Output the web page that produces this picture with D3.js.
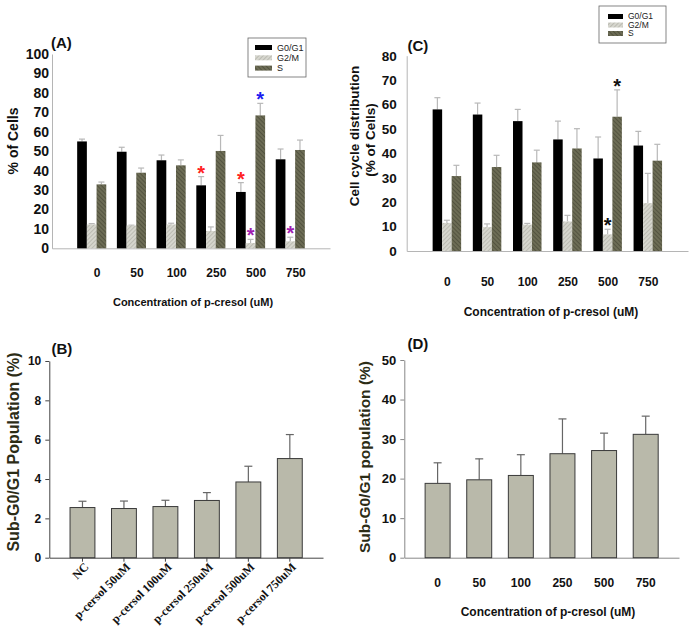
<!DOCTYPE html>
<html>
<head>
<meta charset="utf-8">
<script src="https://cdn.jsdelivr.net/npm/d3@7"></script>
<style>
  body { margin: 0; background: #fff; }
  svg { display: block; }
</style>
</head>
<body>
<svg id="chart" width="692" height="627"></svg>
<script>
// categories
var concLabels = ['0', '50', '100', '250', '500', '750'];
var subLabels = ['NC', 'p-cersol 50uM', 'p-cersol 100uM', 'p-cersol 250uM', 'p-cersol 500uM', 'p-cersol 750uM'];
var phaseNames = ['G0/G1', 'G2/M', 'S'];

// panel A: % of cells
var aG0G1 = [55.0, 49.7, 45.3, 32.4, 29.0, 45.8];
var aG0G1Err = [1.2, 2.3, 2.7, 4.5, 4.8, 5.3];
var aG2M = [12.3, 11.7, 12.3, 8.9, 2.7, 3.6];
var aG2MErr = [0.4, 0.2, 0.6, 2.1, 1.9, 2.1];
var aS = [32.9, 38.9, 42.7, 50.1, 68.4, 50.6];
var aSErr = [1.2, 2.4, 2.8, 8.0, 6.2, 5.1];

// panel C: cell cycle distribution
var cG0G1 = [58.0, 55.9, 53.2, 45.7, 37.9, 43.2];
var cG0G1Err = [4.8, 4.7, 4.8, 7.5, 8.8, 5.8];
var cG2M = [11.5, 9.8, 10.8, 12.1, 6.8, 19.6];
var cG2MErr = [1.1, 1.3, 0.5, 2.5, 2.1, 12.2];
var cS = [30.7, 34.4, 36.3, 42.0, 55.0, 37.0];
var cSErr = [4.4, 4.8, 5.0, 8.1, 11.0, 6.7];

// panel B / D: sub-G0/G1
var bSub = [2.55, 2.50, 2.60, 2.91, 3.85, 5.04];
var bSubErr = [0.32, 0.38, 0.32, 0.40, 0.80, 1.22];
var dSub = [18.8, 19.7, 20.8, 26.3, 27.1, 31.2];
var dSubErr = [5.2, 5.3, 5.25, 8.8, 4.4, 4.6];

// significance marks: [group index, phase index, colour]
var aStars = [[3, 0, '#ff2222'], [4, 0, '#ff2222'], [4, 2, '#1c1cf0'], [4, 1, '#a01cb0'], [5, 1, '#a01cb0']];
var cStars = [[4, 2, '#111'], [4, 1, '#111']];

var sans = '"Liberation Sans", Arial, sans-serif';
var serif = '"Liberation Serif", "Times New Roman", serif';

var svg = d3.select('#chart');
var defs = svg.append('defs');

function hatch(id, bg, fg, angle, sw) {
  var p = defs.append('pattern')
    .attr('id', id)
    .attr('width', 3)
    .attr('height', 3)
    .attr('patternUnits', 'userSpaceOnUse')
    .attr('patternTransform', 'rotate(' + angle + ')');
  p.append('rect').attr('width', 3).attr('height', 3).attr('fill', bg);
  p.append('line').attr('x1', 0).attr('y1', 0).attr('x2', 0).attr('y2', 3)
    .attr('stroke', fg).attr('stroke-width', sw);
}
hatch('hG2M', '#d6d6ce', '#a9a9a0', 45, 1.2);
hatch('hS', '#6c6c55', '#424232', -45, 1.2);

var phaseFill = ['#000', 'url(#hG2M)', 'url(#hS)'];

function drawGrouped(opt) {
  var x = d3.scalePoint().domain(concLabels).range(opt.xRange).padding(1);
  var y = d3.scaleLinear().domain([0, opt.yMax]).range(opt.yRange);
  var bw = opt.barW;
  var g = svg.append('g');

  var yAxis = g.append('g')
    .attr('transform', 'translate(' + opt.xRange[0] + ',0)')
    .call(d3.axisLeft(y).tickValues(d3.range(0, opt.yMax + 1, 10)).tickSize(0).tickPadding(opt.yPad));
  yAxis.select('.domain').attr('stroke', '#b5b5b5');
  yAxis.selectAll('text')
    .attr('font-family', sans).attr('font-weight', 'bold')
    .attr('font-size', opt.yFont + 'px').attr('fill', '#111');

  var xAxis = g.append('g')
    .attr('transform', 'translate(0,' + opt.yRange[0] + ')')
    .call(d3.axisBottom(x).tickSize(0).tickPadding(opt.xPad));
  xAxis.select('.domain').attr('stroke', '#b5b5b5');
  xAxis.selectAll('text')
    .attr('dx', opt.xShift)
    .attr('font-family', sans).attr('font-weight', 'bold')
    .attr('font-size', '12px').attr('fill', '#111');

  opt.series.forEach(function (s, pi) {
    var vals = s[0], errs = s[1];
    concLabels.forEach(function (c, i) {
      var left = x(c) + (pi - 1.5) * bw;
      var top = y(vals[i]);
      var et = y(vals[i] + errs[i]);
      var cx = left + bw / 2;
      g.append('line')
        .attr('x1', cx).attr('x2', cx).attr('y1', top).attr('y2', et)
        .attr('stroke', '#b8b8b8').attr('stroke-width', 1.2);
      g.append('line')
        .attr('x1', cx - 3).attr('x2', cx + 3).attr('y1', et).attr('y2', et)
        .attr('stroke', '#b8b8b8').attr('stroke-width', 1.2);
      g.append('rect')
        .attr('x', left).attr('y', top)
        .attr('width', bw).attr('height', y(0) - top)
        .attr('fill', phaseFill[pi]);
    });
  });

  opt.stars.forEach(function (st) {
    var s = opt.series[st[1]];
    var i = st[0];
    var cx = x(concLabels[i]) + (st[1] - 1) * bw;
    g.append('text')
      .attr('x', cx).attr('y', y(s[0][i] + s[1][i]) + 3)
      .attr('text-anchor', 'middle')
      .attr('font-family', sans).attr('font-weight', 'bold')
      .attr('font-size', '20px').attr('fill', st[2])
      .text('*');
  });

  // legend
  var lg = opt.legend;
  g.append('rect')
    .attr('x', lg.x).attr('y', lg.y).attr('width', lg.w).attr('height', lg.h)
    .attr('fill', '#fff').attr('stroke', '#666').attr('stroke-width', 0.8);
  phaseNames.forEach(function (p, pi) {
    var ry = lg.y + lg.top + pi * lg.step;
    g.append('rect')
      .attr('x', lg.x + lg.sx).attr('y', ry - 2.5)
      .attr('width', lg.sw).attr('height', 5)
      .attr('fill', phaseFill[pi]);
    g.append('text')
      .attr('x', lg.x + lg.sx + lg.sw + 5).attr('y', ry)
      .attr('dy', '0.35em')
      .attr('font-family', sans).attr('font-size', lg.font + 'px').attr('fill', '#222')
      .text(p);
  });
}

function drawSingle(opt) {
  var x = d3.scaleBand().domain(opt.labels).range(opt.xRange).paddingInner(0.4).paddingOuter(0.5);
  var y = d3.scaleLinear().domain([0, opt.yMax]).range(opt.yRange);
  var g = svg.append('g');

  var yAxis = g.append('g')
    .attr('transform', 'translate(' + opt.xRange[0] + ',0)')
    .call(d3.axisLeft(y).tickValues(d3.range(0, opt.yMax + 0.01, opt.yStep)).tickSize(4).tickSizeOuter(0).tickPadding(4));
  yAxis.selectAll('.domain, line').attr('stroke', opt.axisColor);
  yAxis.selectAll('text')
    .attr('font-family', sans).attr('font-weight', 'bold')
    .attr('font-size', opt.yFont + 'px').attr('fill', '#111');

  var xAxis = g.append('g')
    .attr('transform', 'translate(0,' + opt.yRange[0] + ')')
    .call(d3.axisBottom(x).tickSize(opt.xTick).tickSizeOuter(0).tickPadding(opt.xPad));
  xAxis.selectAll('.domain, line').attr('stroke', opt.axisColor);
  if (opt.rotate) {
    xAxis.selectAll('text')
      .attr('text-anchor', 'end')
      .attr('dy', '0.35em')
      .attr('transform', 'translate(4,' + (opt.xPad + 3) + ') rotate(-45)')
      .attr('y', 0)
      .attr('font-family', serif).attr('font-weight', 'bold')
      .attr('font-size', '12px').attr('fill', '#111');
  } else {
    xAxis.selectAll('text')
      .attr('font-family', sans).attr('font-weight', 'bold')
      .attr('font-size', '12px').attr('fill', '#111');
  }

  opt.labels.forEach(function (c, i) {
    var cx = x(c) + x.bandwidth() / 2;
    var et = y(opt.values[i] + opt.errs[i]);
    g.append('line')
      .attr('x1', cx).attr('x2', cx).attr('y1', y(opt.values[i])).attr('y2', et)
      .attr('stroke', '#666').attr('stroke-width', 1.2);
    g.append('line')
      .attr('x1', cx - 4).attr('x2', cx + 4).attr('y1', et).attr('y2', et)
      .attr('stroke', '#666').attr('stroke-width', 1.2);
    g.append('rect')
      .attr('x', x(c)).attr('y', y(opt.values[i]))
      .attr('width', x.bandwidth()).attr('height', y(0) - y(opt.values[i]))
      .attr('fill', '#b9b9aa').attr('stroke', '#3a3a3a').attr('stroke-width', 1);
  });
}

function label(x, y, txt, size, rot, color) {
  var t = svg.append('text')
    .attr('font-family', sans).attr('font-weight', 'bold')
    .attr('font-size', size + 'px').attr('fill', color || '#111')
    .text(txt);
  if (rot) {
    t.attr('text-anchor', 'middle')
      .attr('transform', 'translate(' + x + ',' + y + ') rotate(-90)');
  } else {
    t.attr('x', x).attr('y', y);
  }
  return t;
}

// (A)
drawGrouped({
  xRange: [52, 330], yRange: [248.3, 54], yMax: 100, barW: 9.7,
  yPad: 3, yFont: 14, xPad: 20.5, xShift: 5,
  series: [[aG0G1, aG0G1Err], [aG2M, aG2MErr], [aS, aSErr]],
  stars: aStars,
  legend: { x: 248, y: 38, w: 58, h: 39, top: 9.5, step: 10.3, sx: 7, sw: 17, font: 9 }
});
label(51, 48, '(A)', 15);
label(18, 141, '% of Cells', 14, true);
label(193, 306, 'Concentration of p-cresol (uM)', 11).attr('text-anchor', 'middle');

// (C)
drawGrouped({
  xRange: [406.7, 688], yRange: [251, 55.7], yMax: 80, barW: 9.5,
  yPad: 10, yFont: 13.5, xPad: 26.5, xShift: 0,
  series: [[cG0G1, cG0G1Err], [cG2M, cG2MErr], [cS, cSErr]],
  stars: cStars,
  legend: { x: 599, y: 6, w: 67, h: 37, top: 10.5, step: 8.5, sx: 9, sw: 15, font: 8.5 }
});
label(407.5, 51, '(C)', 15);
label(359, 136, 'Cell cycle distribution', 13.5, true);
label(375, 140, '(% of Cells)', 13.5, true);
label(551, 316, 'Concentration of p-cresol (uM)', 12).attr('text-anchor', 'middle');

// (B)
drawSingle({
  labels: subLabels, values: bSub, errs: bSubErr,
  xRange: [49.3, 323], yRange: [557.7, 361], yMax: 10, yStep: 2, yFont: 12,
  axisColor: '#444', xTick: 4, xPad: 4, rotate: true
});
label(51.5, 354, '(B)', 15);
label(19, 452, 'Sub-G0/G1 Population (%)', 16, true, '#2c2c16');

// (D)
drawSingle({
  labels: concLabels, values: dSub, errs: dSubErr,
  xRange: [404.3, 679], yRange: [557.7, 360], yMax: 50, yStep: 10, yFont: 13,
  axisColor: '#888', xTick: 0, xPad: 21, rotate: false
});
label(407.5, 349, '(D)', 15);
label(369.5, 457, 'Sub-G0/G1 population (%)', 15.5, true, '#2c2c16');
label(548, 616, 'Concentration of p-cresol (uM)', 12).attr('text-anchor', 'middle');
</script>
</body>
</html>
